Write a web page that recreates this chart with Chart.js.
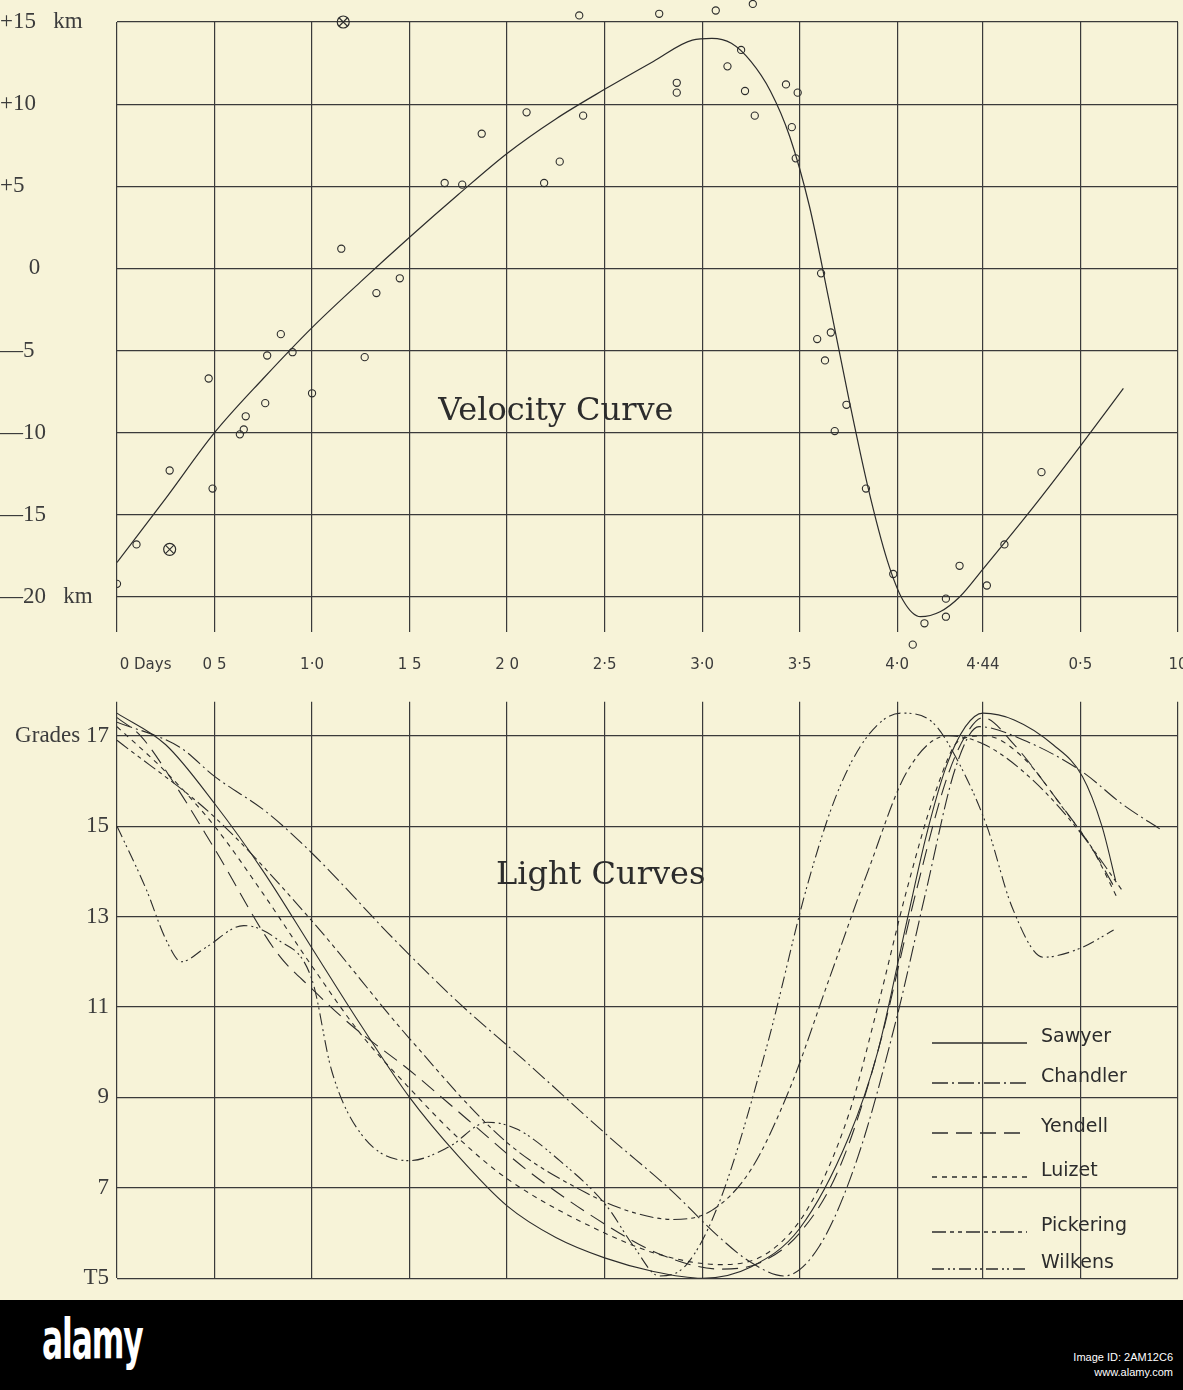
<!DOCTYPE html>
<html>
<head>
	<script src="https://cdn.jsdelivr.net/npm/chart.js@4.4.0/dist/chart.umd.min.js"></script>
	<title>Velocity and light curves</title>
	<style>
		body { margin: 0; background: #f7f3d8; width: 1183px; height: 1390px; position: relative; overflow: hidden; }
		canvas { position: absolute; left: 0; }
		#velGrid, #velMarks { top: 0; }
		#lightChart { top: 680px; }
		#bar { position: absolute; left: 0; top: 1300px; width: 1183px; height: 90px; background: #000; }
		#bar .logo { position: absolute; left: 42px; top: 6px; color: #fff; font: bold 56px "DejaVu Sans", sans-serif; letter-spacing: -2px; transform: scaleX(0.56); transform-origin: left top; }
		#bar .id { position: absolute; right: 10px; top: 50px; color: #fff; font: 11px "Liberation Sans", sans-serif; text-align: right; line-height: 15px; }
	</style>
</head>
<body>
	<canvas id="velGrid" width="1183" height="680"></canvas>
	<canvas id="velMarks" width="1183" height="680"></canvas>
	<canvas id="lightChart" width="1183" height="620"></canvas>
	<div id="bar"><div class="logo">alamy</div><div class="id">Image ID: 2AM12C6<br>www.alamy.com</div></div>
	<script type="text/javascript">
		// days axis (period 4.44 days, then next cycle)
		const dayTicks = [0, 0.5, 1.0, 1.5, 2.0, 2.5, 3.0, 3.5, 4.0, 4.44, 4.94, 5.44];
		const dayTickLabels = ['            0 Days', '0 5', '1·0', '1 5', '2 0', '2·5', '3·0', '3·5', '4·0', '4·44', '0·5', '10'];

		const kmTicks = [-20, -15, -10, -5, 0, 5, 10, 15];
		const kmTickLabels = ['—20   km', '—15', '—10', '—5', '     0', '+5', '+10', '+15   km'];

		const gradeTicks = [5, 7, 9, 11, 13, 15, 17];
		const gradeTickLabels = ['T5', '7', '9', '11', '13', '15', 'Grades 17'];

		// velocity curve [day, km]
		const velocityCurve = [[0,-17.9],[0.25,-14.0],[0.5,-10.0],[0.75,-6.7],[1.0,-3.6],[1.25,-0.8],[1.5,1.9],[1.75,4.5],
			[2.0,7.0],[2.25,9.1],[2.5,10.9],[2.75,12.6],[2.95,13.9],[3.05,14.0],[3.15,13.7],[3.25,12.6],[3.35,10.8],
			[3.45,8.0],[3.55,3.8],[3.65,-1.9],[3.75,-7.8],[3.85,-13.3],[3.95,-17.8],[4.03,-20.2],[4.12,-21.2],
			[4.22,-20.9],[4.32,-20.0],[4.44,-18.3],[4.7,-14.5],[4.94,-10.8],[5.16,-7.3]];

		// observed velocities [day, km]
		const observations = [[0.0,-19.2],[0.1,-16.8],[0.27,-12.3],[0.47,-6.7],[0.49,-13.4],[0.63,-10.1],[0.65,-9.8],
			[0.66,-9.0],[0.76,-8.2],[0.77,-5.3],[0.84,-4.0],[0.9,-5.1],[1.0,-7.6],[1.15,1.2],[1.27,-5.4],[1.33,-1.5],
			[1.45,-0.6],[1.68,5.2],[1.77,5.1],[1.87,8.2],[2.1,9.5],[2.19,5.2],[2.27,6.5],[2.39,9.3],[2.37,15.4],
			[2.78,15.5],[2.87,11.3],[2.87,10.7],[3.07,15.7],[3.26,16.1],[3.2,13.3],[3.13,12.3],[3.22,10.8],[3.27,9.3],
			[3.43,11.2],[3.49,10.7],[3.46,8.6],[3.48,6.7],[3.61,-0.3],[3.59,-4.3],[3.66,-3.9],[3.63,-5.6],[3.74,-8.3],
			[3.68,-9.9],[3.84,-13.4],[3.98,-18.6],[4.08,-22.9],[4.14,-21.6],[4.25,-20.1],[4.25,-21.2],[4.32,-18.1],
			[4.46,-19.3],[4.55,-16.8],[4.74,-12.4]];
		const crossedObs = [[0.27,-17.1],[1.16,15.0]];

		// light curves [day, grade]
		const sawyer = [[0,17.5],[0.25,16.8],[0.5,15.5],[0.75,14.0],[1.0,12.3],[1.25,10.6],[1.5,9.0],[1.75,7.7],[2.0,6.6],
			[2.25,5.9],[2.5,5.45],[2.75,5.15],[3.0,5.0],[3.25,5.25],[3.5,6.1],[3.75,8.1],[3.9,10.0],[4.05,12.9],[4.15,14.8],
			[4.25,16.3],[4.35,17.2],[4.44,17.5],[4.6,17.35],[4.8,16.8],[4.95,16.1],[5.05,15.0],[5.12,13.8]];
		const chandler = [[0,17.3],[0.32,16.75],[0.5,16.1],[0.77,15.3],[1.0,14.4],[1.42,12.5],[1.75,11.1],[2.08,9.85],
			[2.53,8.1],[2.84,6.95],[3.09,5.9],[3.25,5.35],[3.42,5.05],[3.6,5.7],[3.8,7.7],[4.0,10.8],[4.15,13.6],[4.3,16.3],
			[4.42,17.2],[4.65,16.9],[4.95,16.2],[5.15,15.5],[5.36,14.9]];
		const yendell = [[0,17.4],[0.12,17.0],[0.3,15.9],[0.5,14.5],[0.82,12.2],[1.0,11.4],[1.2,10.6],[1.5,9.6],[1.8,8.5],
			[2.1,7.4],[2.5,6.2],[2.8,5.5],[3.1,5.2],[3.3,5.35],[3.5,6.0],[3.7,7.4],[3.9,10.0],[4.1,13.6],[4.25,16.0],
			[4.35,17.0],[4.44,17.4],[4.6,16.8],[4.8,15.7],[5.0,14.5],[5.12,13.6]];
		const luizet = [[0,17.2],[0.25,16.2],[0.5,15.0],[0.75,13.5],[1.0,11.9],[1.25,10.4],[1.5,9.2],[1.75,8.1],[2.0,7.2],
			[2.5,6.0],[2.8,5.5],[3.1,5.3],[3.35,5.6],[3.55,6.6],[3.75,8.6],[3.9,11.0],[4.05,13.6],[4.2,15.8],[4.32,16.9],
			[4.45,17.0],[4.65,16.5],[4.85,15.4],[5.0,14.5],[5.13,13.4]];
		const pickering = [[0,16.9],[0.5,15.2],[1.0,12.9],[1.5,10.3],[2.0,8.0],[2.4,6.9],[2.65,6.45],[2.85,6.3],[3.05,6.5],
			[3.25,7.4],[3.45,9.2],[3.65,11.6],[3.85,14.0],[4.05,16.2],[4.26,17.0],[4.45,16.8],[4.7,16.0],[4.95,14.8],[5.15,13.6]];
		const wilkens = [[0,15.0],[0.15,13.6],[0.25,12.5],[0.33,12.0],[0.45,12.3],[0.65,12.8],[0.82,12.5],[1.0,11.6],[1.1,9.6],
			[1.25,8.2],[1.5,7.6],[1.7,7.9],[1.9,8.45],[2.05,8.3],[2.27,7.6],[2.51,6.6],[2.65,5.7],[2.78,5.05],[2.92,5.3],
			[3.09,6.7],[3.33,10.1],[3.54,13.7],[3.69,15.7],[3.85,17.0],[4.02,17.5],[4.18,17.3],[4.31,16.45],[4.46,15.0],
			[4.59,13.2],[4.75,12.1],[4.94,12.3],[5.11,12.7]];

		const lightNames = ['Sawyer', 'Chandler', 'Yendell', 'Luizet', 'Pickering', 'Wilkens'];
		const lightSeries = [sawyer, chandler, yendell, luizet, pickering, wilkens];
		const lightDashes = [[], [16,4,2,4], [16,8], [5,5], [14,4,4,4,4,4], [12,4,2,3,2,4]];

		const ink = '#2c2c2c';
		const gridInk = '#3a3a3a';
		const labelInk = '#3c3c3c';
		const toXY = arr => arr.map(p => ({x: p[0], y: p[1]}));

		// plain text labels on the plots
		const titlePlugin = {
			id: 'titles',
			afterDatasetsDraw(chart, args, opts) {
				const c = chart.ctx;
				c.save();
				c.fillStyle = ink;
				c.font = opts.font;
				c.textAlign = 'center';
				c.textBaseline = 'middle';
				c.fillText(opts.text, chart.scales.x.getPixelForValue(opts.at[0]), chart.scales.y.getPixelForValue(opts.at[1]));
				c.restore();
			}
		};

		// hand drawn key in the lower right
		const keyPlugin = {
			id: 'key',
			afterDatasetsDraw(chart) {
				const c = chart.ctx;
				const rows = [1043, 1083, 1133, 1177, 1232, 1269];
				c.save();
				chart.data.datasets.forEach((ds, i) => {
					const y = rows[i] - 680;
					c.strokeStyle = ink;
					c.lineWidth = 1.4;
					c.setLineDash(ds.borderDash || []);
					c.beginPath();
					c.moveTo(932, y);
					c.lineTo(1027, y);
					c.stroke();
					c.setLineDash([]);
					c.fillStyle = ink;
					c.font = '19px "DejaVu Sans"';
					c.textAlign = 'left';
					c.textBaseline = 'bottom';
					c.fillText(ds.label, 1041, y + 4);
				});
				c.restore();
			}
		};

		const dayScale = (extra) => Object.assign({
			type: 'linear', min: 0, max: 5.44,
			afterBuildTicks: s => { s.ticks = dayTicks.map(v => ({value: v})); },
			border: {display: false}
		}, extra);

		// grid, axes and title of the velocity plot
		new Chart(document.getElementById('velGrid'), {
			type: 'scatter',
			data: {datasets: []},
			options: {
				responsive: false,
				animation: false,
				events: [],
				layout: {autoPadding: false, padding: {top: 22, right: 5, left: 0, bottom: 0}},
				plugins: {
					legend: {display: false},
					tooltip: {enabled: false},
					titles: {text: 'Velocity Curve', at: [2.25, -8.7], font: '32px "DejaVu Serif"'}
				},
				scales: {
					x: dayScale({
						ticks: {
							callback: (v, i) => dayTickLabels[i], autoSkip: false, maxRotation: 0, padding: 24,
							color: labelInk, font: {family: 'DejaVu Sans', size: 15}
						},
						grid: {color: gridInk, lineWidth: 1.2, drawTicks: true, tickLength: 35},
						afterFit: s => { s.height = 83; s.paddingLeft = 0; s.paddingRight = 0; }
					}),
					y: {
						min: -20, max: 15,
						afterBuildTicks: s => { s.ticks = kmTicks.map(v => ({value: v})); },
						ticks: {
							callback: (v, i) => kmTickLabels[i], crossAlign: 'far',
							color: labelInk, font: {family: 'Liberation Serif', size: 23}
						},
						grid: {color: gridInk, lineWidth: 1.2, drawTicks: false},
						border: {display: false},
						afterFit: s => { s.width = 117; }
					}
				}
			},
			plugins: [titlePlugin]
		});

		// curve and observations, on a taller area so marks beyond the frame still show
		// (same pixel scale: 15 km at y=22, -20 km at y=597)
		const kmPerPx = 35 / 575;
		new Chart(document.getElementById('velMarks'), {
			type: 'scatter',
			data: {
				datasets: [
					{type: 'line', data: toXY(velocityCurve), borderColor: ink, borderWidth: 1.2, pointRadius: 0,
						cubicInterpolationMode: 'monotone', fill: false},
					{data: toXY(observations), pointStyle: 'circle', pointRadius: 3.6, borderColor: ink, borderWidth: 1.1,
						backgroundColor: 'rgba(0,0,0,0)'},
					{data: toXY(crossedObs), pointStyle: 'circle', pointRadius: 6, borderColor: ink, borderWidth: 1.2,
						backgroundColor: 'rgba(0,0,0,0)'},
					{data: toXY(crossedObs), pointStyle: 'crossRot', pointRadius: 6, borderColor: ink, borderWidth: 1.1}
				]
			},
			options: {
				responsive: false,
				animation: false,
				events: [],
				layout: {autoPadding: false, padding: {top: 0, right: 5, left: 117, bottom: 30}},
				plugins: {legend: {display: false}, tooltip: {enabled: false}},
				scales: {
					x: {type: 'linear', min: 0, max: 5.44, display: false},
					y: {min: -20 - 53 * kmPerPx, max: 15 + 22 * kmPerPx, display: false}
				}
			}
		});

		new Chart(document.getElementById('lightChart'), {
			type: 'line',
			data: {
				datasets: lightSeries.map((arr, i) => ({
					label: lightNames[i],
					data: toXY(arr),
					borderColor: ink,
					borderWidth: 1.1,
					borderDash: lightDashes[i],
					pointRadius: 0,
					cubicInterpolationMode: 'monotone',
					fill: false
				}))
			},
			options: {
				responsive: false,
				animation: false,
				events: [],
				layout: {autoPadding: false, padding: {top: 17, right: 5, left: 0, bottom: 0}},
				plugins: {
					legend: {display: false},
					tooltip: {enabled: false},
					titles: {text: 'Light Curves', at: [2.48, 13.9], font: '32px "DejaVu Serif"'}
				},
				scales: {
					x: dayScale({
						ticks: {display: false},
						grid: {color: gridInk, lineWidth: 1.2, drawTicks: false},
						afterFit: s => { s.height = 13; s.paddingLeft = 0; s.paddingRight = 0; }
					}),
					y: {
						min: 5, max: 17.75,
						afterBuildTicks: s => { s.ticks = gradeTicks.map(v => ({value: v})); },
						ticks: {
							callback: (v, i) => gradeTickLabels[i], crossAlign: 'near', padding: 8,
							color: labelInk, font: {family: 'Liberation Serif', size: 23}
						},
						grid: {color: gridInk, lineWidth: 1.2, drawTicks: false},
						border: {display: false},
						afterFit: s => { s.width = 117; }
					}
				}
			},
			plugins: [titlePlugin, keyPlugin]
		});
	</script>
</body>
</html>
